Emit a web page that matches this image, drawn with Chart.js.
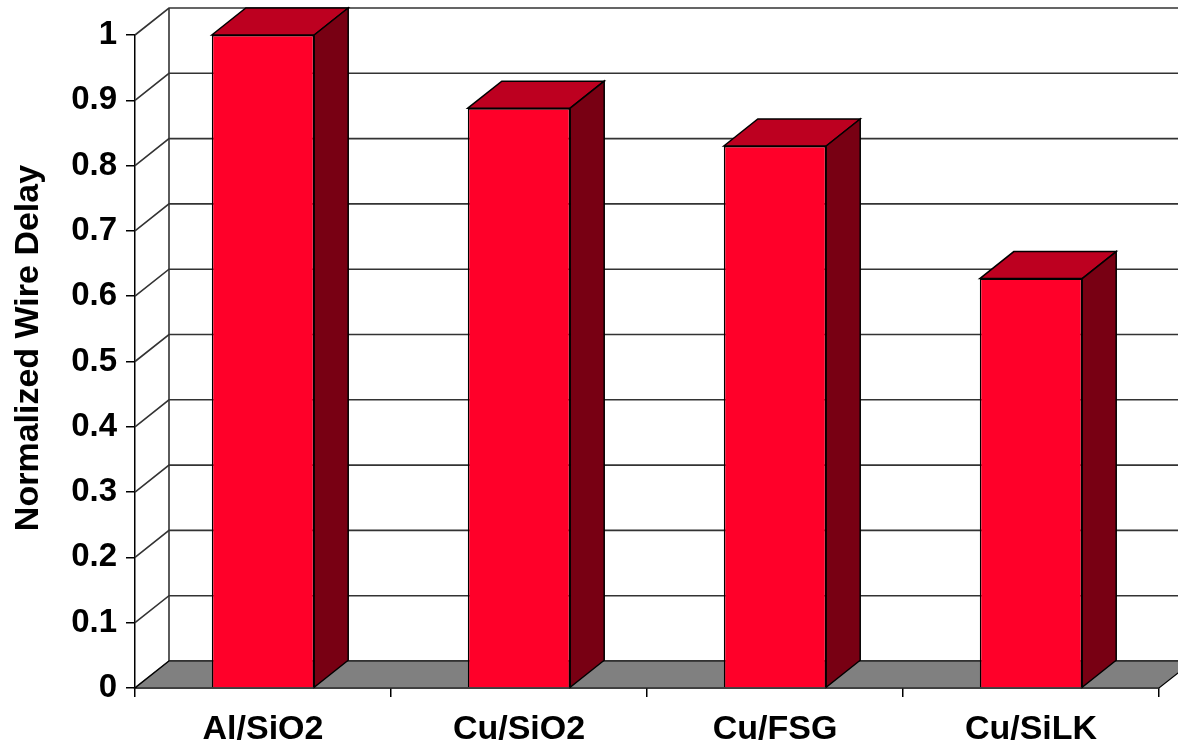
<!DOCTYPE html>
<html>
<head>
<meta charset="utf-8">
<script src="https://cdn.jsdelivr.net/npm/chart.js@4/dist/chart.umd.min.js"></script>
<style>
    body { margin: 0; background: #fff; }
    #chart-wrap { width: 1178px; height: 748px; }
</style>
</head>
<body>
<div id="chart-wrap"><canvas id="delay-graph" width="1178" height="748"></canvas></div>
<script>
const categories = ['Al/SiO2', 'Cu/SiO2', 'Cu/FSG', 'Cu/SiLK'];
const wireDelay = [1.0, 0.888, 0.83, 0.627];
const yTickValues = [0, 0.1, 0.2, 0.3, 0.4, 0.5, 0.6, 0.7, 0.8, 0.9, 1];
const yTickLabels = ['0', '0.1', '0.2', '0.3', '0.4', '0.5', '0.6', '0.7', '0.8', '0.9', '1'];
const yTitle = 'Normalized Wire Delay';

// depth of the fake 3d box, in pixels
const depthX = 34;
const depthY = -27;
const family = "'Liberation Sans', Arial, sans-serif";

function polygon(ctx, points, fill, stroke, width) {
    ctx.beginPath();
    ctx.moveTo(points[0][0], points[0][1]);
    points.slice(1).forEach(p => ctx.lineTo(p[0], p[1]));
    ctx.closePath();
    ctx.fillStyle = fill;
    ctx.fill();
    ctx.strokeStyle = stroke;
    ctx.lineWidth = width;
    ctx.stroke();
}

const wallPlugin = {
    id: 'wall',
    beforeDatasetsDraw(chart) {
        const ctx = chart.ctx;
        const area = chart.chartArea;
        const y = chart.scales.y;
        ctx.save();
        ctx.strokeStyle = '#333';
        ctx.lineWidth = 1.6;
        yTickValues.forEach(v => {
            const py = y.getPixelForValue(v);
            ctx.beginPath();
            ctx.moveTo(area.left, py);
            ctx.lineTo(area.left + depthX, py + depthY);
            ctx.lineTo(chart.width, py + depthY);
            ctx.stroke();
        });
        ctx.beginPath();
        ctx.moveTo(area.left + depthX, y.getPixelForValue(1) + depthY);
        ctx.lineTo(area.left + depthX, area.bottom + depthY);
        ctx.stroke();
        polygon(ctx, [[area.left, area.bottom], [area.right, area.bottom],
                      [area.right + depthX, area.bottom + depthY], [area.left + depthX, area.bottom + depthY]],
                '#808080', '#000', 1.2);
        ctx.restore();
    },
    afterDatasetsDraw(chart) {
        const ctx = chart.ctx;
        ctx.save();
        chart.getDatasetMeta(0).data.forEach(bar => {
            const p = bar.getProps(['x', 'y', 'base', 'width'], true);
            const l = p.x - p.width / 2;
            const r = p.x + p.width / 2;
            polygon(ctx, [[l, p.y], [l + depthX, p.y + depthY], [r + depthX, p.y + depthY], [r, p.y]],
                    '#bd0020', '#000', 1.5);
            polygon(ctx, [[r, p.y], [r + depthX, p.y + depthY], [r + depthX, p.base + depthY], [r, p.base]],
                    '#780013', '#000', 1.5);
        });
        ctx.restore();
    },
    afterDraw(chart) {
        // axis title sits a bit above the middle of the plot, so draw it by hand
        const ctx = chart.ctx;
        ctx.save();
        ctx.translate(29, 348);
        ctx.rotate(-Math.PI / 2);
        ctx.font = 'bold 34px ' + family;
        ctx.fillStyle = '#000';
        ctx.textAlign = 'center';
        ctx.textBaseline = 'middle';
        ctx.fillText(yTitle, 0, 0);
        ctx.restore();
    }
};

new Chart(document.getElementById('delay-graph'), {
    type: 'bar',
    data: {
        labels: categories,
        datasets: [{
            label: yTitle,
            data: wireDelay,
            backgroundColor: '#ff0029',
            borderColor: '#000',
            borderWidth: 1.5,
            barPercentage: 0.4,
            categoryPercentage: 1.0
        }]
    },
    options: {
        responsive: false,
        animation: false,
        devicePixelRatio: 1,
        layout: {padding: {top: 35, right: 19, left: 0, bottom: 0}},
        plugins: {legend: {display: false}, tooltip: {enabled: false}},
        scales: {
            x: {
                afterFit: scale => { scale.height = 60; },
                grid: {drawOnChartArea: false, tickLength: 9, color: '#000', lineWidth: 1.5},
                border: {color: '#000', width: 1.5},
                ticks: {color: '#000', font: {family: family, size: 34, weight: 'bold'}, padding: 12, maxRotation: 0}
            },
            y: {
                min: 0,
                max: 1,
                afterFit: scale => { scale.width = 135; },
                afterBuildTicks: scale => { scale.ticks = yTickValues.map(v => ({value: v})); },
                grid: {drawOnChartArea: false, tickLength: 9, color: '#000', lineWidth: 1.5},
                border: {color: '#000', width: 1.5},
                ticks: {color: '#000', font: {family: family, size: 33, weight: 'bold'}, padding: 9, callback: (v, i) => yTickLabels[i]}
            }
        }
    },
    plugins: [wallPlugin]
});
</script>
</body>
</html>
